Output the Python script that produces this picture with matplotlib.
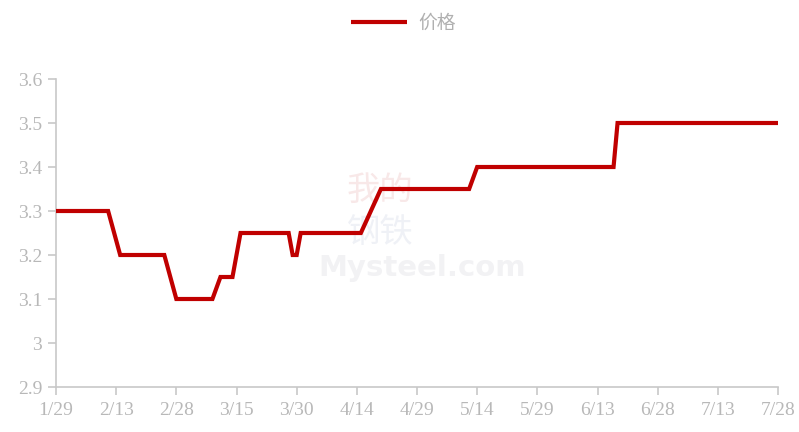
import matplotlib
matplotlib.use("Agg")
import matplotlib.pyplot as plt
import pandas as pd

# ---- data ----
dates = ["2021-01-29", "2021-02-11", "2021-02-14", "2021-02-25", "2021-02-28",
         "2021-03-09", "2021-03-11", "2021-03-14", "2021-03-16", "2021-03-28",
         "2021-03-29", "2021-03-30", "2021-03-31", "2021-04-15", "2021-04-20",
         "2021-05-12", "2021-05-14", "2021-06-17", "2021-06-18", "2021-07-28"]
prices = [3.3, 3.3, 3.2, 3.2, 3.1,
          3.1, 3.15, 3.15, 3.25, 3.25,
          3.2, 3.2, 3.25, 3.25, 3.35,
          3.35, 3.4, 3.4, 3.5, 3.5]
series_name = "价格"
tick_dates = pd.date_range("2021-01-29", "2021-07-28", freq="15D")
y_ticks = [2.9, 3.0, 3.1, 3.2, 3.3, 3.4, 3.5, 3.6]
y_labels = ["2.9", "3", "3.1", "3.2", "3.3", "3.4", "3.5", "3.6"]

plt.rcParams['font.family'] = ['Noto Sans CJK SC', 'DejaVu Sans']

fig = plt.figure(figsize=(7.99, 4.32), dpi=100)
ax = fig.add_axes([56/799, 1-387/432, (778-56)/799, (387-79)/432])

x = pd.to_datetime(dates)
line_color = "#c00000"
ax.plot(x, prices, color=line_color, lw=3.0, solid_joinstyle="miter",
        solid_capstyle="butt", label=series_name, zorder=3)

ax.set_xlim(pd.Timestamp("2021-01-29"), pd.Timestamp("2021-07-28"))
ax.set_ylim(2.9, 3.6)

grey = "#c8c8c8"
lab_grey = "#b8b8b8"
ax.set_yticks(y_ticks)
ax.set_yticklabels(y_labels, family="Liberation Serif", fontsize=14, color=lab_grey)
ax.set_xticks(tick_dates)
ax.set_xticklabels([f"{d.month}/{d.day}" for d in tick_dates],
                   family="Liberation Serif", fontsize=14, color=lab_grey)
ax.tick_params(axis="both", length=6, width=1.2, color=grey)
ax.tick_params(axis="y", pad=4)
ax.tick_params(axis="x", pad=5)

for s in ["top", "right"]:
    ax.spines[s].set_visible(False)
for s in ["left", "bottom"]:
    ax.spines[s].set_color(grey)
    ax.spines[s].set_linewidth(1.2)

# faint watermark (behind the line)
tf = fig.transFigure
ax.text(347/799, 1-190/432, "我的", fontsize=24, color="#f8e8e8", ha="left", va="center",
        zorder=0, transform=tf)
ax.text(347/799, 1-232/432, "钢铁", fontsize=24, color="#eff1f6", ha="left", va="center",
        zorder=0, transform=tf)
ax.text(318/799, 1-268/432, "Mysteel.com", fontsize=21, color="#f2f2f4",
        ha="left", va="center", weight="bold", zorder=0, transform=tf, family="DejaVu Sans")

leg = fig.legend(loc="upper center", bbox_to_anchor=(0.505, 1.01), frameon=False,
                 fontsize=13.5, handlelength=3.0, handletextpad=0.6)
for t in leg.get_texts():
    t.set_color("#b0b0b0")

fig.savefig("out.png", dpi=100)
